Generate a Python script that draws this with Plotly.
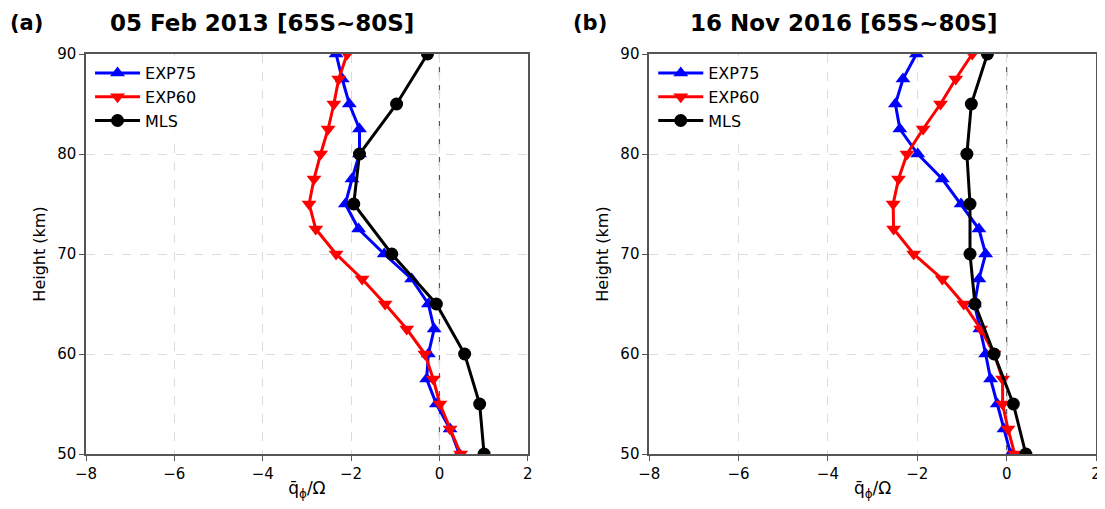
import plotly.graph_objects as go
from plotly.subplots import make_subplots

# heights (km)
h_exp = [50, 52.5, 55, 57.5, 60, 62.5, 65, 67.5, 70, 72.5, 75, 77.5, 80, 82.5, 85, 87.5, 90]
h_mls = [50, 55, 60, 65, 70, 75, 80, 85, 90]

# panel (a): 05 Feb 2013
a_exp75 = [0.45, 0.24, -0.07, -0.29, -0.25, -0.12, -0.25, -0.63, -1.25, -1.83, -2.13, -1.98, -1.81, -1.81, -2.04, -2.2, -2.34]
a_exp60 = [0.48, 0.24, 0.01, -0.14, -0.33, -0.74, -1.23, -1.75, -2.34, -2.8, -2.95, -2.84, -2.69, -2.52, -2.39, -2.28, -2.09]
a_mls = [1.01, 0.91, 0.57, -0.07, -1.08, -1.94, -1.81, -0.97, -0.27]

# panel (b): 16 Nov 2016
b_exp75 = [0.09, -0.06, -0.21, -0.36, -0.47, -0.6, -0.72, -0.62, -0.47, -0.62, -1.02, -1.44, -1.99, -2.39, -2.49, -2.32, -2.02]
b_exp60 = [0.18, 0.03, -0.09, -0.09, -0.28, -0.58, -0.96, -1.44, -2.08, -2.53, -2.54, -2.42, -2.23, -1.87, -1.48, -1.14, -0.77]
b_mls = [0.43, 0.15, -0.28, -0.71, -0.82, -0.82, -0.89, -0.79, -0.43]

titles = ['05 Feb 2013 [65S~80S]', '16 Nov 2016 [65S~80S]']
tags = ['(a)', '(b)']

font_family = 'DejaVu Sans'

# the page body adds an 8 px margin, so the figure is drawn 8 px smaller
fig_w, fig_h = 1097, 493
m_l, m_r, m_t, m_b = 78, 4, 46, 47
plot_w = fig_w - m_l - m_r


def px_to_paper(px):
    # screen x (px) -> paper coordinate
    return (px - 8 - m_l) / plot_w


fig = make_subplots(rows=1, cols=2)

panels = [(a_exp75, a_exp60, a_mls), (b_exp75, b_exp60, b_mls)]
for i, (e75, e60, mls) in enumerate(panels):
    col = i + 1
    leg = 'legend' if i == 0 else 'legend2'
    fig.add_trace(go.Scatter(x=e75, y=h_exp, name='EXP75', mode='lines+markers',
                             line=dict(color='blue', width=3),
                             marker=dict(symbol='triangle-up', size=13, color='blue'),
                             legend=leg), row=1, col=col)
    fig.add_trace(go.Scatter(x=e60, y=h_exp, name='EXP60', mode='lines+markers',
                             line=dict(color='red', width=3),
                             marker=dict(symbol='triangle-down', size=13, color='red'),
                             legend=leg), row=1, col=col)
    fig.add_trace(go.Scatter(x=mls, y=h_mls, name='MLS', mode='lines+markers',
                             line=dict(color='black', width=3),
                             marker=dict(symbol='circle', size=13, color='black'),
                             legend=leg), row=1, col=col)

axis_style = dict(showline=True, linecolor='#555555', linewidth=1.5, mirror=True,
                  ticks='outside', ticklen=5, tickcolor='#555555',
                  showgrid=True, gridcolor='#dcdcdc', griddash='dash', gridwidth=1,
                  zeroline=False, tickfont=dict(size=15, color='black', family=font_family))

doms = [[0, px_to_paper(530)], [px_to_paper(652), 1]]
for col in (1, 2):
    fig.update_xaxes(range=[-8, 2], dtick=2, title_text='q\u0304<sub>\u03d5</sub>/\u03a9',
                     title_font=dict(size=17, family=font_family), title_standoff=2,
                     domain=doms[col - 1], row=1, col=col, **axis_style)
    fig.update_yaxes(range=[50, 90], dtick=10, title_text='Height (km)',
                     title_font=dict(size=16, family=font_family), title_standoff=8,
                     row=1, col=col, **axis_style)

# dashed zero line
for xref, yref in (('x', 'y'), ('x2', 'y2')):
    fig.add_shape(type='line', x0=0, x1=0, y0=50, y1=90, xref=xref, yref=yref,
                  line=dict(color='#555555', width=1.2, dash='dash'), layer='below')

# panel titles and tags
title_x = [px_to_paper(263), px_to_paper(848)]
tag_x = [px_to_paper(8), px_to_paper(573)]
for i in range(2):
    fig.add_annotation(text='<b>' + titles[i] + '</b>', x=title_x[i],
                       y=1.0, xref='paper', yref='paper', xanchor='center', yanchor='bottom',
                       yshift=16, showarrow=False,
                       font=dict(size=23, family=font_family, color='black'))
    fig.add_annotation(text='<b>' + tags[i] + '</b>', x=tag_x[i], y=1.0, xref='paper', yref='paper',
                       xanchor='left', yanchor='bottom', yshift=17, showarrow=False,
                       font=dict(size=21, family=font_family, color='black'))

legend_style = dict(bgcolor='rgba(255,255,255,0.8)', borderwidth=0,
                    font=dict(size=16, family=font_family, color='black'),
                    xanchor='left', yanchor='top', itemwidth=45, tracegroupgap=0)

fig.update_layout(
    width=fig_w, height=fig_h,
    margin=dict(l=m_l, r=m_r, t=m_t, b=m_b),
    plot_bgcolor='white', paper_bgcolor='white',
    font=dict(family=font_family, color='black'),
    legend=dict(x=doms[0][0] + 0.004, y=0.995, **legend_style),
    legend2=dict(x=doms[1][0] + 0.004, y=0.995, **legend_style),
)

fig.write_html('out.html')
